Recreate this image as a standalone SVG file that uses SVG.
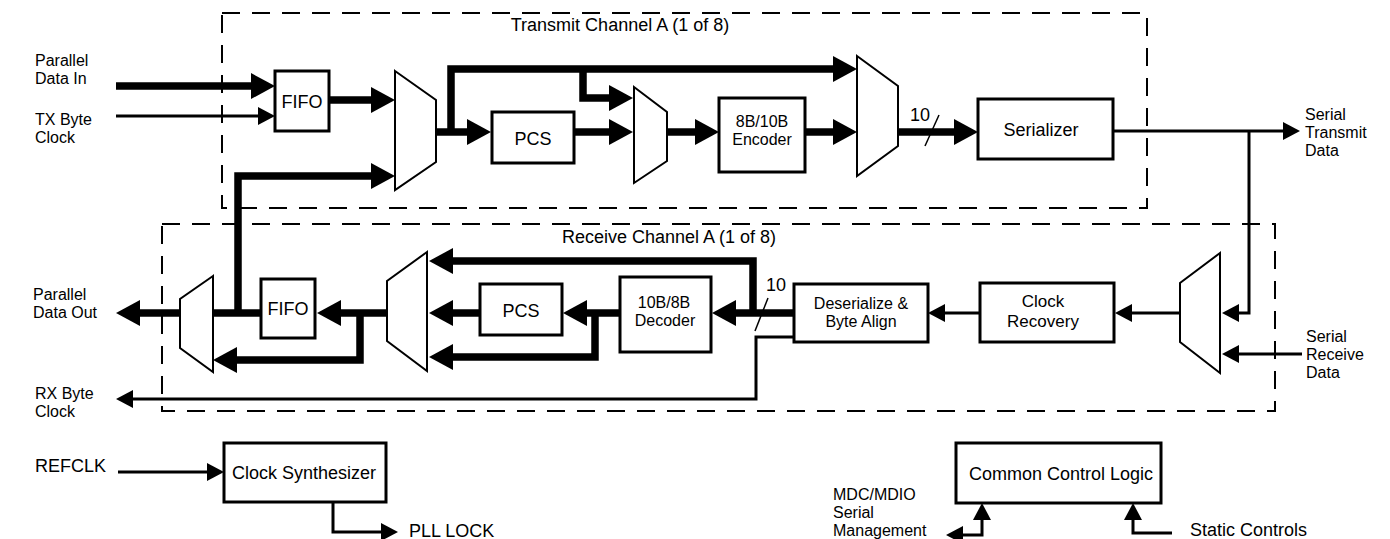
<svg xmlns="http://www.w3.org/2000/svg" width="1390" height="539" viewBox="0 0 1390 539">
<style>
text{font-family:"Liberation Sans",Arial,Helvetica,sans-serif;font-size:18px;fill:#000}
text.m{font-size:16px}
.c{text-anchor:middle}
.box{fill:#fff;stroke:#000;stroke-width:3}
.mux{fill:#fff;stroke:#000;stroke-width:2}
.dash{fill:none;stroke:#000;stroke-width:2;stroke-dasharray:18 12}
.thk{fill:none;stroke:#000;stroke-width:7.5;marker-end:url(#ta)}
.thk.n{marker-end:none}
.thn{fill:none;stroke:#000;stroke-width:3;marker-end:url(#sa)}
.sl{stroke:#000;stroke-width:1.5}
</style>
<defs>
<marker id="ta" markerUnits="userSpaceOnUse" markerWidth="24" markerHeight="28" viewBox="0 -14 24 28" refX="1" refY="0" orient="auto" overflow="visible"><path d="M0,-13 L24,0 L0,13 z"/></marker>
<marker id="sa" markerUnits="userSpaceOnUse" markerWidth="17" markerHeight="20" viewBox="0 -10 17 20" refX="1" refY="0" orient="auto-start-reverse" overflow="visible"><path d="M0,-9 L17,0 L0,9 z"/></marker>
</defs>
<rect width="1390" height="539" fill="#fff"/>

<g id="tx-channel">
<rect class="dash" x="222" y="13" width="925" height="195"/>
<text class="c" x="620" y="31">Transmit Channel A (1 of 8)</text>
</g>
<g id="rx-channel">
<rect class="dash" x="162" y="224" width="1113" height="187"/>
<text class="c" x="669" y="243">Receive Channel A (1 of 8)</text>
</g>

<g id="connectors">
<path class="thk" d="M116,86 H252"/>
<path class="thk" d="M329,100 H372"/>
<path class="thk" d="M238,313 V176 H372"/>
<path class="thk" d="M436,132 H468"/>
<path class="thk" d="M451,132 V69 H834"/>
<path class="thk" d="M583,69 V98 H610"/>
<path class="thk" d="M574,132 H610"/>
<path class="thk" d="M667,132 H696"/>
<path class="thk" d="M805,132 H834"/>
<path class="thk" d="M898,132 H955"/>
<path class="thk" d="M794,313 H735"/>
<path class="thk" d="M753,313 V261 H452"/>
<path class="thk" d="M620,313 H586"/>
<path class="thk" d="M595,313 V357 H452"/>
<path class="thk" d="M480,313 H452"/>
<path class="thk" d="M387,313 H340"/>
<path class="thk" d="M360,313 V360 H236"/>
<path class="thk n" d="M261,313 H213"/>
<path class="thk" d="M180,313 H139"/>
<path class="thn" d="M116,116 H259"/>
<path class="thn" d="M1113,131 H1284"/>
<path class="thn" d="M1249,131 V313 H1238"/>
<path class="thn" d="M1302,354 H1238"/>
<path class="thn" d="M1180,313 H1131"/>
<path class="thn" d="M980,313 H944"/>
<path class="thn" d="M794,337 H756 V399 H132"/>
<path class="thn" d="M118,472 H208"/>
<path class="thn" d="M333,502 V532 H382"/>
<path class="thn" d="M962,535 H982 V519" style="marker-start:url(#sa)"/>
<path class="thn" d="M1172,533 H1133 V519"/>
<line class="sl" x1="925" y1="146" x2="939" y2="115"/>
<text x="910" y="121">10</text>
<line class="sl" x1="755" y1="331" x2="768" y2="298"/>
<text x="766" y="291">10</text>
</g>

<g id="tx-fifo"><rect class="box" x="275" y="71" width="54" height="60"/><text class="c" x="302" y="108">FIFO</text></g>
<g id="tx-mux1"><polygon class="mux" points="395,71 436,100 436,162 395,190"/></g>
<g id="tx-pcs"><rect class="box" x="492" y="112" width="82" height="51"/><text class="c" x="533" y="145">PCS</text></g>
<g id="tx-mux2"><polygon class="mux" points="634,87 667,112 667,161 634,183"/></g>
<g id="tx-encoder"><rect class="box" x="719" y="98" width="86" height="74"/><text class="c m" x="762" y="127">8B/10B<tspan x="762" dy="18">Encoder</tspan></text></g>
<g id="tx-mux3"><polygon class="mux" points="857,56 898,86 898,146 857,176"/></g>
<g id="serializer"><rect class="box" x="978" y="99" width="135" height="60"/><text class="c" x="1041" y="136">Serializer</text></g>

<g id="rx-mux4"><polygon class="mux" points="1220,253 1180,283 1180,342 1220,373"/></g>
<g id="clock-recovery"><rect class="box" x="980" y="283" width="134" height="59"/><text class="c" x="1043" y="307" style="font-size:17px">Clock<tspan x="1043" dy="19.5">Recovery</tspan></text></g>
<g id="deserializer"><rect class="box" x="794" y="284" width="134" height="58"/><text class="c m" x="861" y="309">Deserialize &amp;<tspan x="861" dy="18">Byte Align</tspan></text></g>
<g id="rx-decoder"><rect class="box" x="620" y="277" width="91" height="75"/><text class="c m" x="664" y="308">10B/8B<tspan x="665" dy="18">Decoder</tspan></text></g>
<g id="rx-pcs"><rect class="box" x="480" y="284" width="82" height="51"/><text class="c" x="521" y="317">PCS</text></g>
<g id="rx-mux5"><polygon class="mux" points="427,252 387,281 387,341 427,371"/></g>
<g id="rx-fifo"><rect class="box" x="261" y="279" width="54" height="59"/><text class="c" x="288" y="315">FIFO</text></g>
<g id="rx-mux6"><polygon class="mux" points="213,276 180,299 180,348 213,372"/></g>

<g id="clock-synth"><rect class="box" x="224" y="443" width="162" height="59"/><text class="c" x="304" y="479">Clock Synthesizer</text></g>
<g id="common-control"><rect class="box" x="956" y="443" width="205" height="60"/><text class="c" x="1061" y="480">Common Control Logic</text></g>

<g id="labels">
<text class="m" x="35" y="66">Parallel<tspan x="35" dy="18">Data In</tspan></text>
<text class="m" x="35" y="125">TX Byte<tspan x="35" dy="18">Clock</tspan></text>
<text class="m" x="1305" y="120">Serial<tspan x="1305" dy="18">Transmit</tspan><tspan x="1305" dy="18">Data</tspan></text>
<text class="m" x="1306" y="342">Serial<tspan x="1306" dy="18">Receive</tspan><tspan x="1306" dy="18">Data</tspan></text>
<text class="m" x="33" y="300">Parallel<tspan x="33" dy="18">Data Out</tspan></text>
<text class="m" x="35" y="399">RX Byte<tspan x="35" dy="18">Clock</tspan></text>
<text x="35" y="472">REFCLK</text>
<text x="409" y="537">PLL LOCK</text>
<text class="m" x="833" y="500">MDC/MDIO<tspan x="833" dy="18">Serial</tspan><tspan x="833" dy="18">Management</tspan></text>
<text x="1190" y="536">Static Controls</text>
</g>
</svg>
